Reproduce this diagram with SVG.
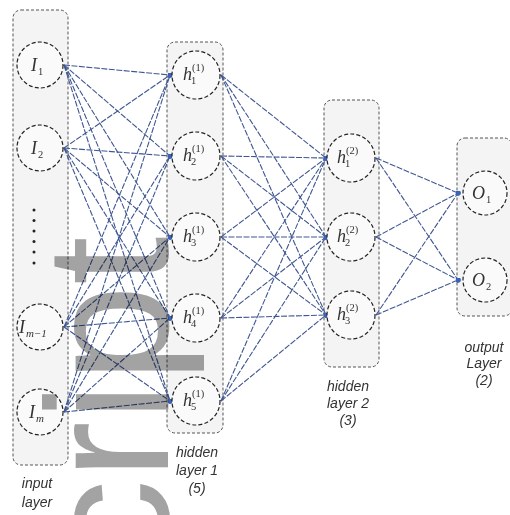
<svg xmlns="http://www.w3.org/2000/svg" width="510" height="515" viewBox="0 0 510 515">
<style>
.box{fill:#f4f4f4;stroke:#555;stroke-width:1;stroke-dasharray:3 2}
.nd{fill:#fafafa;stroke:#222;stroke-width:1.2;stroke-dasharray:4 2.2}
.cn line{stroke:#3f5791;stroke-width:1.1;stroke-dasharray:6 1.5;marker-end:url(#dot)}
.nl{font-family:"Liberation Serif","DejaVu Serif",serif;font-style:italic;font-size:18px;fill:#333}
.ns{font-family:"Liberation Serif","DejaVu Serif",serif;font-size:10.5px;fill:#333}
.lb{font-family:"Liberation Sans",Arial,sans-serif;font-style:italic;font-size:14px;fill:#333;text-anchor:middle}
.wm{font-family:"Liberation Sans",Arial,sans-serif;font-size:175px;fill:#a3a3a3;mix-blend-mode:multiply}
</style>
<defs>
<marker id="dot" viewBox="0 0 6 6" refX="3" refY="3" markerWidth="5" markerHeight="5" markerUnits="userSpaceOnUse">
<circle cx="3" cy="3" r="3" fill="#3a62b8"/>
</marker>
</defs>
<rect width="510" height="515" fill="#fff"/>
<g id="layer-boxes">
<rect class="box" x="13" y="10" width="55" height="455" rx="8"/>
<rect class="box" x="167" y="42" width="56" height="391" rx="8"/>
<rect class="box" x="324" y="100" width="55" height="267" rx="8"/>
<rect class="box" x="457" y="138" width="55" height="178" rx="8"/>
</g>
<g id="connectors" class="cn">
<line x1="64" y1="65" x2="170" y2="75"/><line x1="64" y1="65" x2="170" y2="156"/><line x1="64" y1="65" x2="170" y2="237"/><line x1="64" y1="65" x2="170" y2="318"/><line x1="64" y1="65" x2="170" y2="401"/>
<line x1="64" y1="148" x2="170" y2="75"/><line x1="64" y1="148" x2="170" y2="156"/><line x1="64" y1="148" x2="170" y2="237"/><line x1="64" y1="148" x2="170" y2="318"/><line x1="64" y1="148" x2="170" y2="401"/>
<line x1="64" y1="327" x2="170" y2="75"/><line x1="64" y1="327" x2="170" y2="156"/><line x1="64" y1="327" x2="170" y2="237"/><line x1="64" y1="327" x2="170" y2="318"/><line x1="64" y1="327" x2="170" y2="401"/>
<line x1="64" y1="412" x2="170" y2="75"/><line x1="64" y1="412" x2="170" y2="156"/><line x1="64" y1="412" x2="170" y2="237"/><line x1="64" y1="412" x2="170" y2="318"/><line x1="64" y1="412" x2="170" y2="401"/>
<line x1="221" y1="75" x2="326" y2="158"/><line x1="221" y1="75" x2="326" y2="237"/><line x1="221" y1="75" x2="326" y2="315"/>
<line x1="221" y1="156" x2="326" y2="158"/><line x1="221" y1="156" x2="326" y2="237"/><line x1="221" y1="156" x2="326" y2="315"/>
<line x1="221" y1="237" x2="326" y2="158"/><line x1="221" y1="237" x2="326" y2="237"/><line x1="221" y1="237" x2="326" y2="315"/>
<line x1="221" y1="318" x2="326" y2="158"/><line x1="221" y1="318" x2="326" y2="237"/><line x1="221" y1="318" x2="326" y2="315"/>
<line x1="221" y1="401" x2="326" y2="158"/><line x1="221" y1="401" x2="326" y2="237"/><line x1="221" y1="401" x2="326" y2="315"/>
<line x1="376" y1="158" x2="458" y2="193"/><line x1="376" y1="158" x2="458" y2="280"/>
<line x1="376" y1="237" x2="458" y2="193"/><line x1="376" y1="237" x2="458" y2="280"/>
<line x1="376" y1="315" x2="458" y2="193"/><line x1="376" y1="315" x2="458" y2="280"/>
</g>
<g id="node-I1"><circle class="nd" cx="40" cy="65" r="23"/><text class="nl" x="31" y="71">I</text><text class="ns" x="38" y="75">1</text></g>
<g id="node-I2"><circle class="nd" cx="40" cy="148" r="23"/><text class="nl" x="31" y="154">I</text><text class="ns" x="38" y="158">2</text></g>
<g id="input-ellipsis" fill="#222"><circle cx="34" cy="210" r="1.5"/><circle cx="34" cy="220.5" r="1.5"/><circle cx="34" cy="231" r="1.5"/><circle cx="34" cy="241.5" r="1.5"/><circle cx="34" cy="252" r="1.5"/><circle cx="34" cy="263" r="1.5"/></g>
<g id="node-Im-1"><circle class="nd" cx="40" cy="327" r="23"/><text class="nl" x="19" y="333">I</text><text class="ns" x="26" y="337" style="font-style:italic;font-size:11px">m−1</text></g>
<g id="node-Im"><circle class="nd" cx="40" cy="412" r="23"/><text class="nl" x="29" y="418">I</text><text class="ns" x="36" y="422" style="font-style:italic;font-size:11px">m</text></g>
<g id="node-h1-1"><circle class="nd" cx="196" cy="75" r="24"/><text class="nl" x="183" y="80">h</text><text class="ns" x="192" y="71">(1)</text><text class="ns" x="191" y="84">1</text></g>
<g id="node-h1-2"><circle class="nd" cx="196" cy="156" r="24"/><text class="nl" x="183" y="161">h</text><text class="ns" x="192" y="152">(1)</text><text class="ns" x="191" y="165">2</text></g>
<g id="node-h1-3"><circle class="nd" cx="196" cy="237" r="24"/><text class="nl" x="183" y="242">h</text><text class="ns" x="192" y="233">(1)</text><text class="ns" x="191" y="246">3</text></g>
<g id="node-h1-4"><circle class="nd" cx="196" cy="318" r="24"/><text class="nl" x="183" y="323">h</text><text class="ns" x="192" y="314">(1)</text><text class="ns" x="191" y="327">4</text></g>
<g id="node-h1-5"><circle class="nd" cx="196" cy="401" r="24"/><text class="nl" x="183" y="406">h</text><text class="ns" x="192" y="397">(1)</text><text class="ns" x="191" y="410">5</text></g>
<g id="node-h2-1"><circle class="nd" cx="351" cy="158" r="24"/><text class="nl" x="337" y="163">h</text><text class="ns" x="346" y="154">(2)</text><text class="ns" x="345" y="167">1</text></g>
<g id="node-h2-2"><circle class="nd" cx="351" cy="237" r="24"/><text class="nl" x="337" y="242">h</text><text class="ns" x="346" y="233">(2)</text><text class="ns" x="345" y="246">2</text></g>
<g id="node-h2-3"><circle class="nd" cx="351" cy="315" r="24"/><text class="nl" x="337" y="320">h</text><text class="ns" x="346" y="311">(2)</text><text class="ns" x="345" y="324">3</text></g>
<g id="node-O1"><circle class="nd" cx="485" cy="193" r="22"/><text class="nl" x="472" y="199">O</text><text class="ns" x="486" y="203">1</text></g>
<g id="node-O2"><circle class="nd" cx="485" cy="280" r="22"/><text class="nl" x="472" y="286">O</text><text class="ns" x="486" y="290">2</text></g>
<g id="labels">
<text class="lb" x="37" y="488">input</text><text class="lb" x="37" y="507">layer</text>
<text class="lb" x="197" y="457">hidden</text><text class="lb" x="197" y="475">layer 1</text><text class="lb" x="197" y="493">(5)</text>
<text class="lb" x="348" y="391">hidden</text><text class="lb" x="348" y="408">layer 2</text><text class="lb" x="348" y="425">(3)</text>
<text class="lb" x="484" y="352">output</text><text class="lb" x="484" y="368">Layer</text><text class="lb" x="484" y="385">(2)</text>
</g>
<g id="watermark"><text class="wm" transform="translate(168,567) rotate(-90)">cript</text></g>
</svg>
